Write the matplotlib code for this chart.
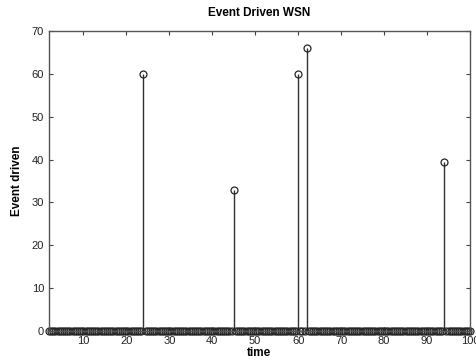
import numpy as np
import matplotlib
matplotlib.use('Agg')
import matplotlib.pyplot as plt

plt.rcParams['font.family'] = ['Liberation Sans', 'DejaVu Sans']

# event time stamps and values (all other samples are zero)
time = np.arange(2, 100.01, 0.5)
event_t = [24, 45, 60, 62, 94]
event_v = [60, 33, 60, 66, 39.5]

values = np.zeros(len(time))
for t, v in zip(event_t, event_v):
    values[np.isclose(time, t)] = v

fig = plt.figure(figsize=(4.77, 3.62), dpi=100)
ax = fig.add_axes([0.1027, 0.0856, 0.8826, 0.8288])

markerline, stemlines, baseline = ax.stem(time, values, basefmt=' ')
plt.setp(stemlines, color='#303030', linewidth=1.0)
plt.setp(markerline, marker='o', markersize=5, markerfacecolor='none',
         markeredgecolor='#262626', markeredgewidth=0.9, clip_on=False)

ax.set_xlim(2, 100)
ax.set_ylim(0, 70)
ax.set_xticks(np.arange(10, 101, 10))
ax.set_yticks(np.arange(0, 71, 10))
ax.tick_params(direction='in', top=True, right=True, length=3, labelsize=8,
               colors='#404040', labelcolor='#222222')
for s in ax.spines.values():
    s.set_color('#555555')
    s.set_linewidth(1.0)

ax.set_title('Event Driven WSN', fontsize=8.5, fontweight='bold', pad=11)
ax.set_xlabel('time', fontsize=8.5, fontweight='bold', labelpad=1)
ax.set_ylabel('Event driven', fontsize=8.5, fontweight='bold', labelpad=6)

plt.savefig('out.png', dpi=100)
